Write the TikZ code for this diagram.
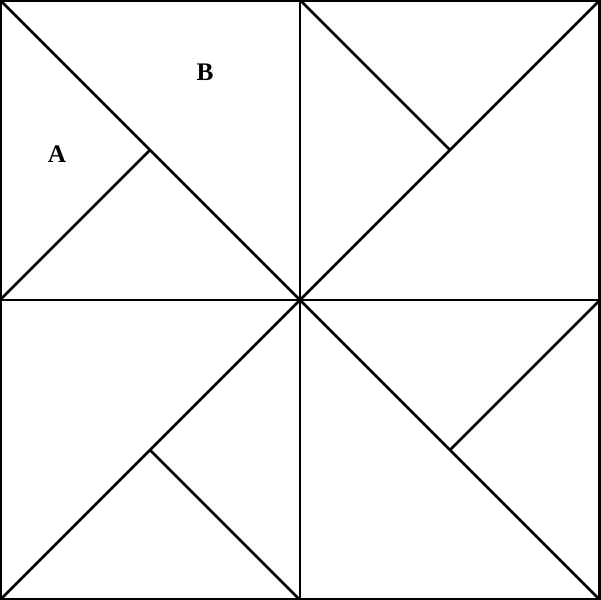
\documentclass[tikz,border=0pt]{standalone}
\usepackage{fontspec}
\setmainfont{Liberation Serif}
\usepackage{tikz}

\begin{document}
\begin{tikzpicture}[x = 1.6667cm, y = 1.6667cm, line width = 1.2pt]
        \useasboundingbox (0,0) rectangle (6,6);
        \draw[line width = 1.8pt] (0,0) rectangle (6,6);
        \draw (3,0) -- (3,6);
        \draw (0,3) -- (6,3);
        \draw (0,6) -- (3,3) -- (0,0);
        \draw (6,6) -- (3,3) -- (6,0);
        \draw (0,3) -- (1.5,4.5);
        \draw (3,6) -- (4.5,4.5);
        \draw (1.5,1.5) -- (3,0);
        \draw (4.5,1.5) -- (6,3);
        \node[font=\fontsize{12}{14}\selectfont\bfseries] (A) at (0.57,4.46) {A};
        \node[font=\fontsize{12}{14}\selectfont\bfseries] (B) at (2.05,5.28) {B};
      \end{tikzpicture}
\end{document}
